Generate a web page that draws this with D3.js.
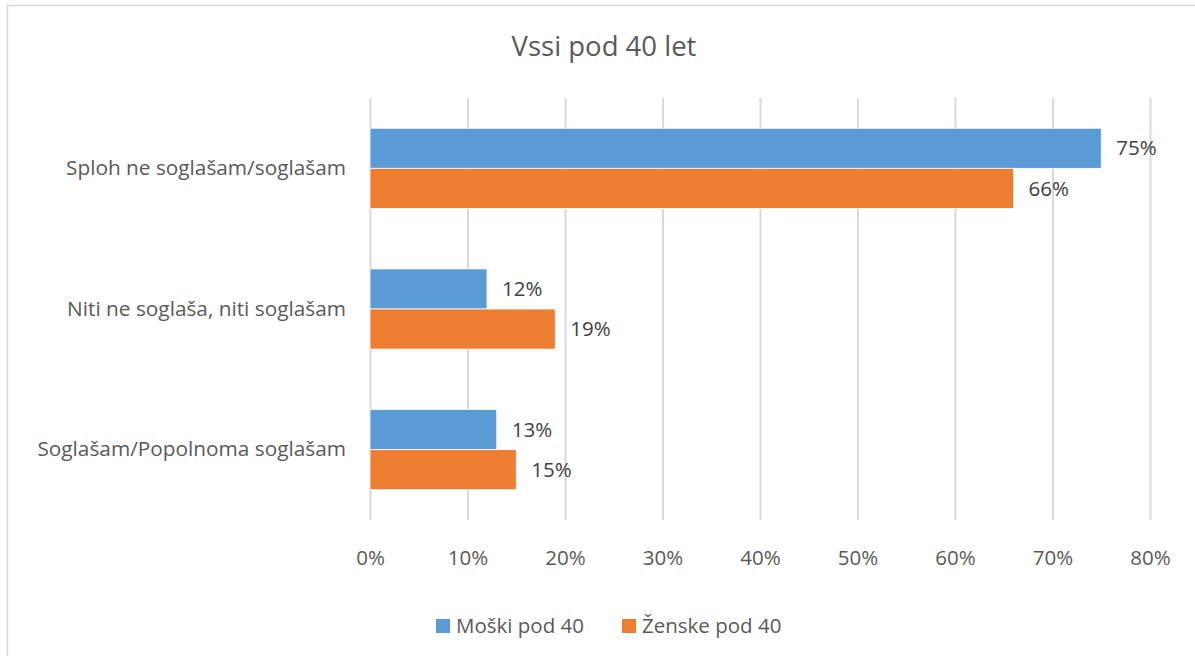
<!DOCTYPE html>
<html><head><meta charset="utf-8">
<script src="https://cdn.jsdelivr.net/npm/d3@7"></script>
<style>body{margin:0;background:#fff;}svg{display:block;font-family:"Open Sans",sans-serif;}</style>
</head><body><svg id="c" width="1195" height="656"></svg>
<script>
const categories = ["Sploh ne soglašam/soglašam", "Niti ne soglaša, niti soglašam", "Soglašam/Popolnoma soglašam"];
const seriesNames = ["Moški pod 40", "Ženske pod 40"];
const moski = [0.75, 0.12, 0.13];
const zenske = [0.66, 0.19, 0.15];
const tickValues = [0, 0.1, 0.2, 0.3, 0.4, 0.5, 0.6, 0.7, 0.8];
const colors = ["#5B9BD5", "#ED7D31"];
const title = "Vssi pod 40 let";

const svg = d3.select("#c");
svg.append("rect").attr("x", 7.5).attr("y", 5.5).attr("width", 1200).attr("height", 660)
  .attr("fill", "#fff").attr("stroke", "#d9d9d9").attr("stroke-width", 1.5);

const plot = {left: 370, right: 1150, top: 98, bottom: 520};
const x = d3.scaleLinear().domain([0, 0.8]).range([plot.left, plot.right]);
const y = d3.scaleBand().domain(categories).range([plot.top, plot.bottom]).paddingInner(0.43).paddingOuter(0.215);
const y1 = d3.scaleBand().domain(seriesNames).range([0, y.bandwidth()]);

svg.append("text").attr("x", 604).attr("y", 56).attr("text-anchor", "middle")
  .attr("font-size", 27.5).attr("fill", "#595959").text(title);

// gridlines
const gx = svg.append("g").attr("transform", `translate(0,${plot.bottom})`)
  .call(d3.axisBottom(x).tickValues(tickValues).tickFormat(d3.format(".0%")).tickSize(-(plot.bottom - plot.top)).tickPadding(30));
gx.select(".domain").remove();
gx.selectAll(".tick line").attr("stroke", "#d9d9d9").attr("stroke-width", 2);
gx.selectAll(".tick text").attr("font-size", 20.5).attr("fill", "#595959").attr("font-family", "Open Sans");

// category axis
const gy = svg.append("g").attr("transform", `translate(${plot.left},0)`)
  .call(d3.axisLeft(y).tickSize(0).tickPadding(24));
gy.select(".domain").remove();
gy.selectAll(".tick text").attr("font-size", 20.8).attr("fill", "#595959").attr("font-family", "Open Sans");

const data = categories.map((c, i) => ({c, vals: [moski[i], zenske[i]]}));
const groups = svg.append("g").selectAll("g").data(data).join("g")
  .attr("transform", d => `translate(0,${y(d.c)})`);
groups.selectAll("rect").data(d => d.vals.map((v, j) => ({v, s: seriesNames[j], j}))).join("rect")
  .attr("x", x(0)).attr("y", d => y1(d.s)).attr("width", d => x(d.v) - x(0)).attr("height", y1.bandwidth())
  .attr("fill", d => colors[d.j]).attr("stroke", "#fff").attr("stroke-width", 0.8);
groups.selectAll("text").data(d => d.vals.map((v, j) => ({v, s: seriesNames[j], j}))).join("text")
  .attr("x", d => x(d.v) + 15).attr("y", d => y1(d.s) + y1.bandwidth() / 2).attr("dy", "0.35em")
  .attr("font-size", 20.5).attr("fill", "#404040").text(d => d3.format(".0%")(d.v));

// legend
const legendX = [436, 622];
const leg = svg.append("g").selectAll("g").data(seriesNames).join("g")
  .attr("transform", (d, i) => `translate(${legendX[i]},619)`);
leg.append("rect").attr("width", 14).attr("height", 14).attr("fill", (d, i) => colors[i]);
leg.append("text").attr("x", 20).attr("y", 7).attr("dy", "0.35em").attr("font-size", 20.5)
  .attr("fill", "#595959").text(d => d);
</script></body></html>
